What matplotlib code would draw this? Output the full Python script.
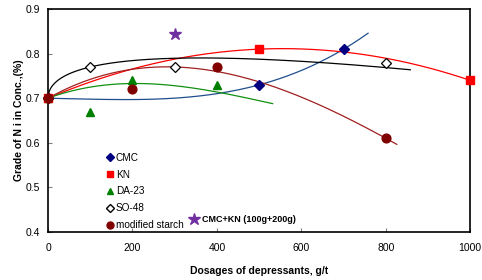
import numpy as np
import matplotlib
matplotlib.use("Agg")
import matplotlib.pyplot as plt
from matplotlib.lines import Line2D

plt.rcParams['font.family'] = ['Liberation Sans', 'DejaVu Sans']

# ---- data (measured points) ----
cmc_x = [0, 500, 700]
cmc_y = [0.70, 0.73, 0.81]
kn_x = [0, 500, 1000]
kn_y = [0.70, 0.81, 0.74]
da_x = [0, 100, 200, 400]
da_y = [0.70, 0.67, 0.74, 0.73]
so_x = [0, 100, 300, 800]
so_y = [0.70, 0.77, 0.77, 0.78]
st_x = [0, 200, 400, 800]
st_y = [0.70, 0.72, 0.77, 0.61]
mix_x = [300]
mix_y = [0.845]

# ---- trendline coefficients (u = dosage/100) ----
cmc_coef = [0.000471, -0.0008, -0.001786, 0.70]   # cubic
kn_coef = [-0.0036, 0.04, 0.70]                    # quadratic
da_coef = [0.000644, -0.01037, 0.03466, 0.70]      # cubic
st_coef = [0.000367, -0.01095, 0.0529, 0.70]       # cubic
so_coef = [0.70, 0.095, -0.025]                    # a + b*sqrt(u) + c*u
cmc_end, kn_end, da_end, so_end, st_end = 758, 1000, 532, 858, 826

x_ticks = [0, 200, 400, 600, 800, 1000]
y_ticks = [0.4, 0.5, 0.6, 0.7, 0.8, 0.9]

fig = plt.figure(figsize=(4.82, 2.80), dpi=100)
ax = fig.add_axes([0.0996, 0.171, 0.876, 0.797])

def poly_line(coef, end, color):
    xs = np.linspace(0, end, 200)
    ax.plot(xs, np.polyval(coef, xs / 100.0), color=color, lw=0.9, zorder=2)

poly_line(cmc_coef, cmc_end, '#1F4E8C')
poly_line(kn_coef, kn_end, '#FF0000')
poly_line(da_coef, da_end, '#129012')
xs = np.linspace(0, so_end, 300)
u = xs / 100.0
ax.plot(xs, so_coef[0] + so_coef[1] * np.sqrt(u) + so_coef[2] * u, color='black', lw=0.9, zorder=2)
poly_line(st_coef, st_end, '#A02020')

ms = 6.3
ax.plot(cmc_x, cmc_y, 'D', color='#000080', ms=5, ls='none', zorder=3, clip_on=False)
ax.plot(da_x, da_y, '^', color='#008000', ms=ms, ls='none', zorder=3, clip_on=False)
ax.plot(so_x, so_y, 'D', mfc='white', mec='black', mew=0.9, ms=5, ls='none', zorder=3, clip_on=False)
ax.plot(kn_x, kn_y, 's', color='#FF0000', ms=ms, ls='none', zorder=3, clip_on=False)
ax.plot(st_x, st_y, 'o', color='#800000', ms=ms, ls='none', zorder=4, clip_on=False)
ax.plot(mix_x, mix_y, '*', color='#7030A0', ms=9, ls='none', zorder=3)

ax.set_xlim(0, 1000)
ax.set_ylim(0.4, 0.9)
ax.set_xticks(x_ticks)
ax.set_yticks(y_ticks)
ax.set_xticklabels([str(v) for v in x_ticks])
ax.set_yticklabels([f'{v:.1f}' for v in y_ticks])
ax.tick_params(direction='in', length=3, width=0.8, color='#808080', labelsize=7.5)
ax.tick_params(axis='x', pad=8)
ax.tick_params(axis='y', pad=6)
for s in ax.spines.values():
    s.set_linewidth(1.2)
    s.set_color('black')

ax.set_xlabel('Dosages of depressants, g/t', fontsize=7.5, fontweight='bold', labelpad=9)
ax.set_ylabel('Grade of N i in Conc.,(%)', fontsize=7.5, fontweight='bold', labelpad=1)

handles = [
    Line2D([], [], marker='D', color='#000080', ls='none', ms=4.5),
    Line2D([], [], marker='s', color='#FF0000', ls='none', ms=5),
    Line2D([], [], marker='^', color='#008000', ls='none', ms=5),
    Line2D([], [], marker='D', mfc='white', mec='black', ls='none', ms=4.5),
    Line2D([], [], marker='o', color='#800000', ls='none', ms=5),
]
labels = ['CMC', 'KN', 'DA-23', 'SO-48', 'modified starch']
leg = ax.legend(handles, labels, loc='upper left', bbox_to_anchor=(0.139, 0.355),
                frameon=False, fontsize=7.2, handlelength=0.6, handletextpad=0.3,
                labelspacing=0.68, borderpad=0, borderaxespad=0)
ax.add_artist(leg)
h2 = [Line2D([], [], marker='*', color='#7030A0', ls='none', ms=9)]
ax.legend(h2, ['CMC+KN (100g+200g)'], loc='upper left', bbox_to_anchor=(0.336, 0.078),
          frameon=False, prop={'size': 6.5, 'weight': 'bold'}, handlelength=1.0,
          handletextpad=0.3, borderpad=0, borderaxespad=0)

fig.savefig('out.png', dpi=100)
